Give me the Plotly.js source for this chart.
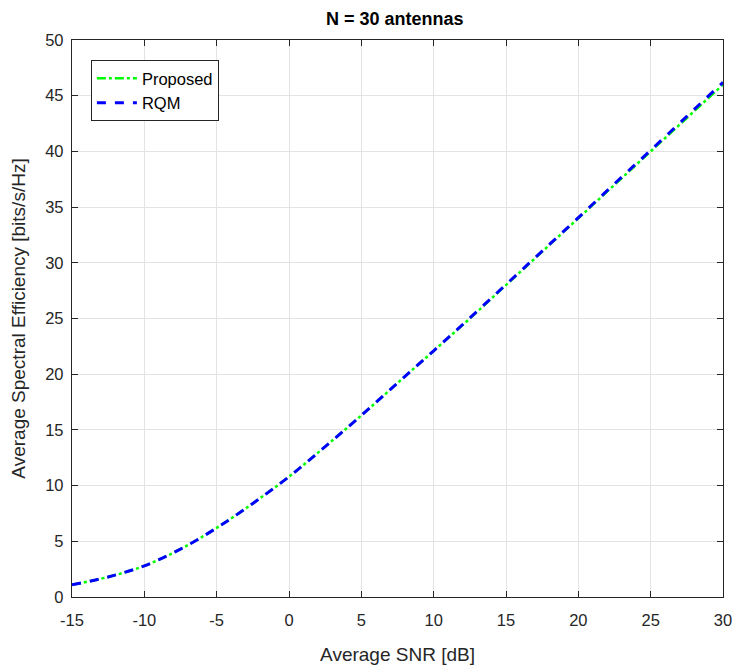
<!DOCTYPE html>
<html><head><meta charset="utf-8">
<script src="https://cdn.plot.ly/plotly-3.0.1.min.js"></script>
<style>body{margin:0;background:#fff}</style></head>
<body><div id="chart" style="width:738px;height:668px"></div>
<script>
const snr = [-15,-12.5,-10,-7.5,-5,-2.5,0,2.5,5,7.5,10,12.5,15,17.5,20,22.5,25,27.5,30];
const proposed = [1.1,1.8,2.8,4.3,6.2,8.4,10.8,13.5,16.3,19.2,22.1,25.0,28.0,31.0,34.0,37.0,40.0,43.0,46.0];
const rqm = [1.1,1.8,2.8,4.3,6.2,8.4,10.8,13.5,16.3,19.2,22.1,25.05,28.05,31.05,34.05,37.1,40.1,43.15,46.2];
const xTickVals = [-15,-10,-5,0,5,10,15,20,25,30];
const xTickText = ['-15','-10','-5','0','5','10','15','20','25','30'];
const font = "Liberation Sans, Arial, sans-serif";
const traces = [
 {x:snr,y:proposed,name:'Proposed',mode:'lines',line:{color:'#00ff00',width:2.5,dash:'dashdot',shape:'spline'}},
 {x:snr,y:rqm,name:'RQM',mode:'lines',line:{color:'#0000ff',width:3,dash:'dash',shape:'spline'}}
];
const ax = {showline:true,mirror:'ticks',linecolor:'#262626',linewidth:1.3,ticks:'inside',ticklen:6,tickcolor:'#262626',
  showgrid:true,gridcolor:'#e3e3e3',zeroline:false,tickfont:{family:font,size:16.5,color:'#262626'}};
const layout = {
 width:738,height:668,margin:{l:72,r:15,t:40,b:71},paper_bgcolor:'#fff',plot_bgcolor:'#fff',
 title:{text:'<b>N = 30 antennas</b>',font:{family:font,size:18,color:'#000'},x:0.535,xanchor:'center',y:0.982,yanchor:'top'},
 xaxis:Object.assign({},ax,{range:[-15,30],tickvals:xTickVals,ticktext:xTickText,ticklabelstandoff:8,
   title:{text:'Average SNR [dB]',font:{family:font,size:19,color:'#262626'},standoff:19}}),
 yaxis:Object.assign({},ax,{range:[0,50],dtick:5,ticklabelstandoff:4,
   title:{text:'Average Spectral Efficiency [bits/s/Hz]',font:{family:font,size:19,color:'#262626'},standoff:14}}),
 showlegend:true,
 legend:{x:0.029,y:0.964,xanchor:'left',yanchor:'top',bgcolor:'#fff',bordercolor:'#262626',borderwidth:1,
   font:{family:font,size:16.5,color:'#000'},tracegroupgap:0,itemwidth:40}
};
Plotly.newPlot('chart',traces,layout,{displayModeBar:false});
</script></body></html>
